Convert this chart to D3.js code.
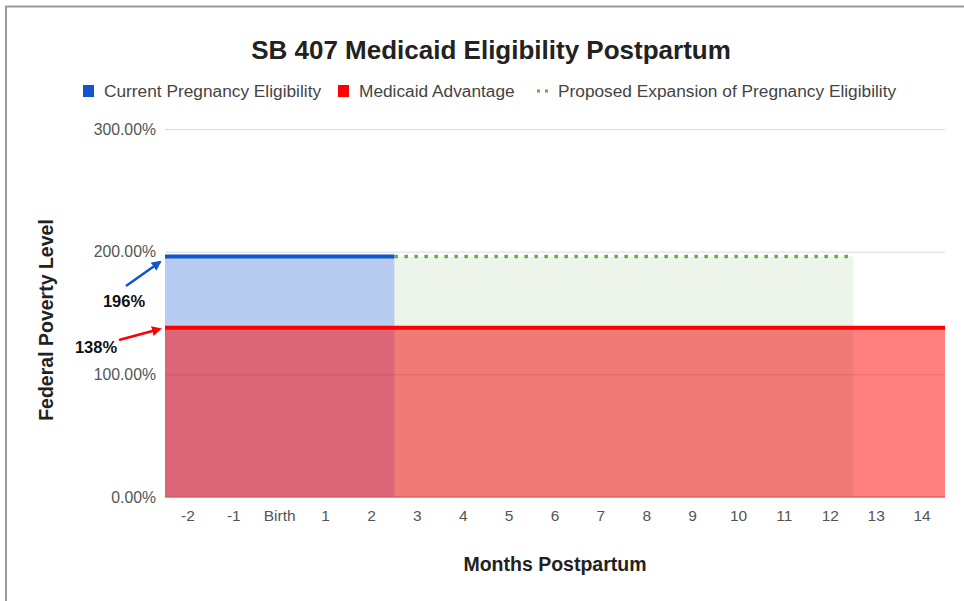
<!DOCTYPE html>
<html>
<head>
<meta charset="utf-8">
<script src="https://cdn.jsdelivr.net/npm/d3@7"></script>
<style>
  body { margin: 0; background: #fff; }
  svg { display: block; font-family: "Liberation Sans", Arial, sans-serif; }
</style>
</head>
<body>
<svg id="chart" width="964" height="601"></svg>
<script>
// data
const months = ["-2", "-1", "Birth", "1", "2", "3", "4", "5", "6", "7", "8", "9", "10", "11", "12", "13", "14"];
const currentElig = [196, 196, 196, 196, 196, null, null, null, null, null, null, null, null, null, null, null, null];
const medicaidAdv = [138, 138, 138, 138, 138, 138, 138, 138, 138, 138, 138, 138, 138, 138, 138, 138, 138];
const proposedExp = [null, null, null, null, null, 196, 196, 196, 196, 196, 196, 196, 196, 196, 196, null, null];
const yTicks = [0, 100, 200, 300];

let margin = { top: 129, right: 19, bottom: 104, left: 165 };
let width = 964, height = 601;
let font = "'Liberation Sans', Arial, sans-serif";

let svg = d3.select("#chart");

// outer frame
svg.append("path")
  .attr("d", "M6,601 V6.5 H964")
  .attr("fill", "none")
  .attr("stroke", "#9a9a9a")
  .attr("stroke-width", 2);

let x = d3.scaleBand()
  .domain(months)
  .range([margin.left, width - margin.right])
  .padding(0);

let y = d3.scaleLinear()
  .domain([0, 300])
  .range([height - margin.bottom, margin.top]);

// gridlines
svg.append("g")
  .attr("transform", `translate(${margin.left},0)`)
  .call(d3.axisLeft(y).tickValues(yTicks).tickSize(-(width - margin.left - margin.right)).tickFormat(""))
  .call(g => g.select(".domain").remove())
  .call(g => g.selectAll("line").attr("stroke", "#d9d9d9"));

// y tick labels
svg.append("g")
  .attr("transform", `translate(${margin.left - 6},0)`)
  .call(d3.axisLeft(y).tickValues(yTicks).tickSize(0).tickFormat(d => d.toFixed(2) + "%"))
  .call(g => g.select(".domain").remove())
  .call(g => g.selectAll("text")
    .attr("font-size", 15.8)
    .attr("fill", "#555")
    .attr("font-family", font));

// step points: each category spans its whole band
function stepPoints(values) {
  let pts = [];
  values.forEach((v, i) => {
    pts.push({ x: x(months[i]), v: v });
    pts.push({ x: x(months[i]) + x.bandwidth(), v: v });
  });
  return pts;
}

let area = d3.area()
  .defined(d => d.v != null)
  .x(d => d.x)
  .y0(y(0))
  .y1(d => y(d.v));

let line = d3.line()
  .defined(d => d.v != null)
  .x(d => d.x)
  .y(d => y(d.v));

// areas
svg.append("path")
  .datum(stepPoints(currentElig))
  .attr("d", area)
  .attr("fill", "#1155cc")
  .attr("fill-opacity", 0.3);

svg.append("path")
  .datum(stepPoints(proposedExp))
  .attr("d", area)
  .attr("fill", "#6aa84f")
  .attr("fill-opacity", 0.12);

svg.append("path")
  .datum(stepPoints(medicaidAdv))
  .attr("d", area)
  .attr("fill", "#ff0000")
  .attr("fill-opacity", 0.5);

// the 3-12 band looks a bit more muted in the original
svg.append("path")
  .datum(stepPoints(proposedExp).map(d => ({ x: d.x, v: d.v == null ? null : 138 })))
  .attr("d", area)
  .attr("fill", "#808080")
  .attr("fill-opacity", 0.05);

// baseline
svg.append("line")
  .attr("x1", margin.left)
  .attr("x2", width - margin.right)
  .attr("y1", y(0))
  .attr("y2", y(0))
  .attr("stroke", "#cc5555")
  .attr("stroke-width", 1);

// lines
svg.append("path")
  .datum(stepPoints(currentElig))
  .attr("d", line)
  .attr("fill", "none")
  .attr("stroke", "#1155cc")
  .attr("stroke-width", 4);

svg.append("path")
  .datum(stepPoints(proposedExp))
  .attr("d", line)
  .attr("fill", "none")
  .attr("stroke", "#6aa84f")
  .attr("stroke-width", 3.5)
  .attr("stroke-dasharray", "3.5 6.5");

svg.append("path")
  .datum(stepPoints(medicaidAdv))
  .attr("d", line)
  .attr("fill", "none")
  .attr("stroke", "#ff0000")
  .attr("stroke-width", 4);

// x tick labels
svg.append("g")
  .attr("transform", `translate(0,${y(0) + 10})`)
  .call(d3.axisBottom(x).tickSize(0))
  .call(g => g.select(".domain").remove())
  .call(g => g.selectAll("text")
    .attr("font-size", 15.5)
    .attr("fill", "#555")
    .attr("font-family", font));

// title
svg.append("text")
  .attr("x", 491)
  .attr("y", 59)
  .attr("text-anchor", "middle")
  .attr("font-size", 26)
  .attr("font-weight", "bold")
  .attr("fill", "#222")
  .text("SB 407 Medicaid Eligibility Postpartum");

// legend
let legend = [
  { label: "Current Pregnancy Eligibility", color: "#1155cc", type: "box", x: 83, tx: 104 },
  { label: "Medicaid Advantage", color: "#ff0000", type: "box", x: 338, tx: 359 },
  { label: "Proposed Expansion of Pregnancy Eligibility", color: "#6aa84f", type: "dots", x: 535, tx: 558 }
];
let lg = svg.append("g").attr("transform", "translate(0,91)");
legend.forEach(d => {
  if (d.type == "box") {
    lg.append("rect")
      .attr("x", d.x).attr("y", -6)
      .attr("width", 11).attr("height", 12)
      .attr("fill", d.color);
  } else {
    lg.append("line")
      .attr("x1", d.x + 2).attr("x2", d.x + 14)
      .attr("y1", 0).attr("y2", 0)
      .attr("stroke", d.color)
      .attr("stroke-width", 3)
      .attr("stroke-dasharray", "3 5");
  }
  lg.append("text")
    .attr("x", d.tx)
    .attr("y", 0)
    .attr("dy", "0.35em")
    .attr("font-size", 17.3)
    .attr("fill", "#444")
    .text(d.label);
});

// axis titles
svg.append("text")
  .attr("transform", "translate(53,320) rotate(-90)")
  .attr("text-anchor", "middle")
  .attr("font-size", 19.5)
  .attr("font-weight", "bold")
  .attr("fill", "#222")
  .text("Federal Poverty Level");

svg.append("text")
  .attr("x", 555)
  .attr("y", 571)
  .attr("text-anchor", "middle")
  .attr("font-size", 19.5)
  .attr("font-weight", "bold")
  .attr("fill", "#222")
  .text("Months Postpartum");

// annotations
let defs = svg.append("defs");
[["blueHead", "#1155cc"], ["redHead", "#ff0000"]].forEach(([id, c]) => {
  defs.append("marker")
    .attr("id", id)
    .attr("viewBox", "0 0 10 10")
    .attr("refX", 8).attr("refY", 5)
    .attr("markerWidth", 4).attr("markerHeight", 4)
    .attr("orient", "auto")
    .append("path")
    .attr("d", "M0,0 L10,5 L0,10 z")
    .attr("fill", c);
});

svg.append("line")
  .attr("x1", 126).attr("y1", 286)
  .attr("x2", 160).attr("y2", 262)
  .attr("stroke", "#1155cc").attr("stroke-width", 2.5)
  .attr("marker-end", "url(#blueHead)");

svg.append("line")
  .attr("x1", 119).attr("y1", 340)
  .attr("x2", 160).attr("y2", 329)
  .attr("stroke", "#ff0000").attr("stroke-width", 2.5)
  .attr("marker-end", "url(#redHead)");

svg.append("text")
  .attr("x", 124).attr("y", 301).attr("dy", "0.35em")
  .attr("text-anchor", "middle")
  .attr("font-size", 16.5).attr("font-weight", "bold").attr("fill", "#111")
  .text("196%");

svg.append("text")
  .attr("x", 96).attr("y", 347).attr("dy", "0.35em")
  .attr("text-anchor", "middle")
  .attr("font-size", 16.5).attr("font-weight", "bold").attr("fill", "#111")
  .text("138%");
</script>
</body>
</html>
